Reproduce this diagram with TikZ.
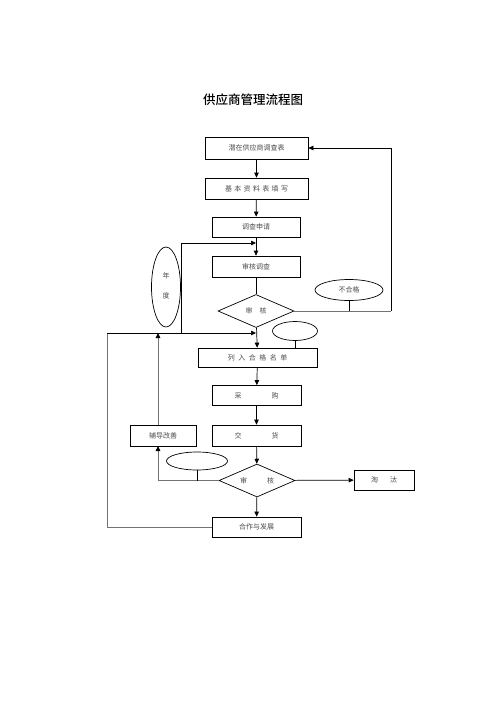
\documentclass[tikz,border=0pt]{standalone}
\usepackage{fontspec}
\newfontfamily\cjk{Noto Sans CJK SC}
\newfontfamily\cjkb{Noto Sans CJK SC Medium}
\usetikzlibrary{arrows.meta,shapes.geometric}
\begin{document}
\begin{tikzpicture}[x=1pt,y=-1pt,
  box/.style={draw,line width=0.7pt,inner sep=0pt,font=\cjk\fontsize{7}{8}\selectfont,text=black!70},
  dia/.style={draw,line width=0.7pt,diamond,aspect=2.3,inner sep=0pt,minimum width=76pt,minimum height=33pt,font=\cjk\fontsize{7}{8}\selectfont,text=black!70},
  ell/.style={draw,line width=0.7pt,ellipse,inner sep=0pt,font=\cjk\fontsize{7}{8}\selectfont,text=black!70},
  ln/.style={line width=0.7pt},
  gln/.style={line width=0.9pt,black!55},
  arr/.style={line width=0.7pt,-{Triangle[length=5pt,width=4.5pt]}},
  garr/.style={line width=0.9pt,black!55,-{Triangle[length=5pt,width=4.5pt,fill=black,color=black]}}]
\useasboundingbox (0,0) rectangle (496,702);
\node[font=\cjkb\fontsize{12.5}{14}\selectfont] (title) at (253,100) {供应商管理流程图};
\node[box,minimum width=103pt,minimum height=22pt] (b1) at (256.5,148) {\raisebox{-2pt}{潜在供应商调查表}};
\node[box,minimum width=103pt,minimum height=21pt] (b2) at (256.5,188.5) {\raisebox{-2pt}{基\,\,本\,\,资\,\,料\,\,表\,\,填\,\,写}};
\node[box,minimum width=88pt,minimum height=20pt] (b3) at (256,227) {调查申请};
\node[box,minimum width=88pt,minimum height=21pt] (b4) at (256,266.5) {审核调查};
\node[dia] (d1) at (256,311) {\raisebox{-2pt}{审\quad 核}};
\node[ell,minimum width=68pt,minimum height=21pt] (e1) at (349,290) {不合格};
\node[ell,minimum width=45pt,minimum height=19pt] (e2) at (295,331) {};
\node[ell,minimum width=29pt,minimum height=80pt] (ey) at (166,287) {\begin{tabular}{c}年\\[12pt]度\end{tabular}};
\node[box,minimum width=119pt,minimum height=19pt] (b5) at (257.5,357.5) {列\,\,\,入\,\,\,合\,\,\,格\,\,\,名\,\,\,单};
\node[box,minimum width=89pt,minimum height=20pt] (b6) at (256.5,395.5) {采\hspace{30pt}购};
\node[box,minimum width=89pt,minimum height=21pt] (b7) at (256.5,435.5) {\raisebox{-2pt}{交\hspace{30pt}货}};
\node[box,minimum width=66pt,minimum height=21pt] (bl) at (163,435.5) {\raisebox{-2pt}{辅导改善}};
\node[ell,minimum width=61pt,minimum height=18pt] (e3) at (197,461) {};
\node[dia] (d2) at (257,480.5) {\raisebox{-3pt}{审\hspace{20pt}核}};
\node[box,minimum width=60pt,minimum height=20pt] (br) at (384,480) {淘\hspace{12pt}汰};
\node[box,minimum width=89pt,minimum height=20pt] (bb) at (256.5,527) {\raisebox{-2pt}{合作与发展}};
% coordinates
\coordinate (c243) at (256,243);
\coordinate (y243) at (181,243);
\coordinate (y333) at (181,333);
\coordinate (j333) at (256,333);
\coordinate (l333) at (107,333);
\coordinate (l527) at (107,527);
\coordinate (r1) at (391,311);
\coordinate (g333) at (158,333);
\coordinate (g425) at (158,425);
\coordinate (g446) at (158,446);
\coordinate (g480) at (158,480.5);
% main flow
\draw[arr] (b1) -- (b2);
\draw[arr] (b2) -- (b3);
\draw[arr] (b3) -- (b4);
\draw[ln] (b4) -- (d1);
\draw[arr] (d1) -- (b5);
\draw[arr] (b5) -- (b6);
\draw[arr] (b6) -- (b7);
\draw[arr] (b7) -- (d2);
\draw[arr] (d2) -- (bb);
\draw[arr] (d2) -- (br);
% reject loop
\draw[gln] (d1.east) -- (r1);
\draw[arr] (r1) -- (r1 |- b1.east) -- (b1.east);
\draw[ln] (e1.south) -- (e1.south |- r1);
\draw[ln] (e2.south) -- (e2.south |- b5.north);
% annual loop
\draw[ln] (ey.east) -- (ey.east -| y243);
\draw[ln] (y333) -- (y243);
\draw[arr] (y243) -- (c243);
\draw[gln] (bb.west) -- (l527) -- (l333);
\draw[arr] (l333) -- (j333);
% improve loop
\draw[garr] (g425) -- (g333);
\draw[gln] (d2.west) -- (g480);
\draw[garr] (g480) -- (g446);
\draw[ln] (e3.south) -- (e3.south |- d2.west);
\end{tikzpicture}
\end{document}
